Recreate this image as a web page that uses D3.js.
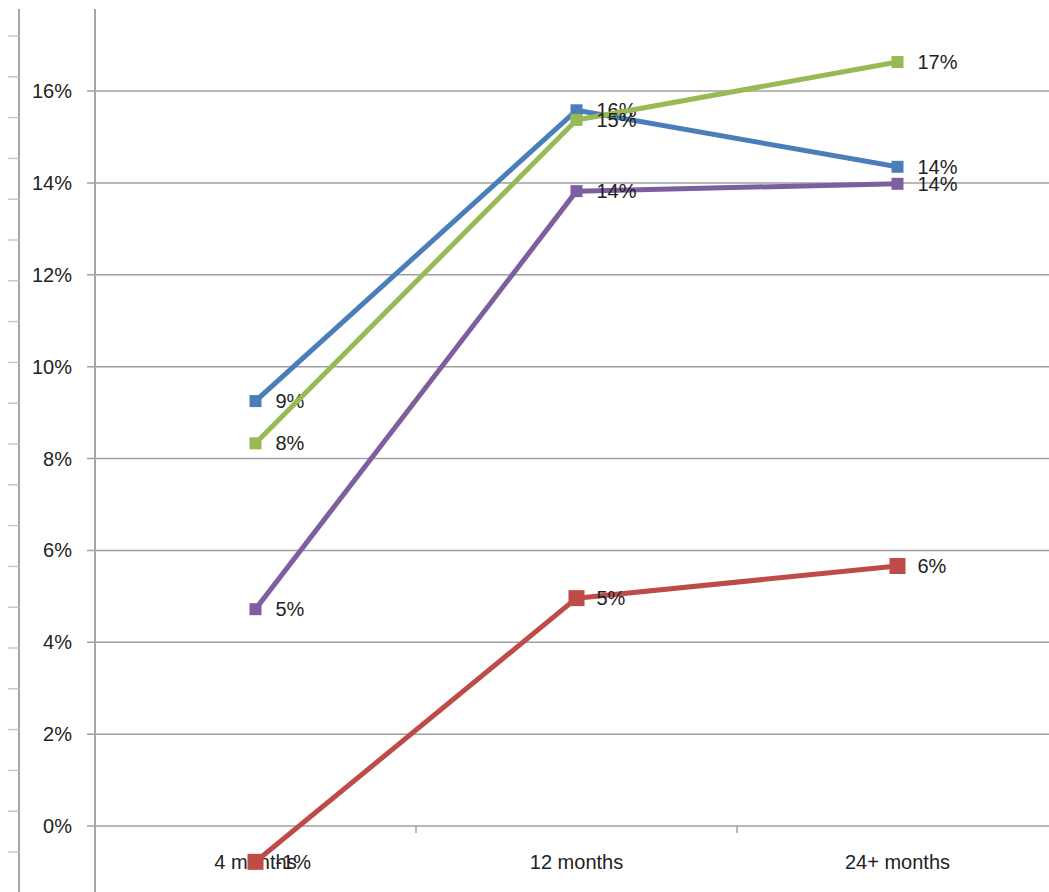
<!DOCTYPE html>
<html>
<head>
<meta charset="utf-8">
<script src="https://cdn.jsdelivr.net/npm/d3@7"></script>
<style>
  body { margin: 0; background: #fff; }
  text { font-family: "Liberation Sans", Arial, sans-serif; fill: #222; }
</style>
</head>
<body>
<div id="chart-area"></div>
<script>
// chart data
let categories = ["4 months", "12 months", "24+ months"];
let blueValues = [9.25, 15.58, 14.35];
let greenValues = [8.33, 15.37, 16.63];
let purpleValues = [4.72, 13.82, 13.98];
let redValues = [-0.78, 4.96, 5.66];
let yTicks = [0, 2, 4, 6, 8, 10, 12, 14, 16];

let series = [
    {name: "blue", color: "#4a7ebb", values: blueValues, marker: 12},
    {name: "green", color: "#98b954", values: greenValues, marker: 12},
    {name: "purple", color: "#7d5fa0", values: purpleValues, marker: 12},
    {name: "red", color: "#be4b48", values: redValues, marker: 16}
];

let width = 1049, height = 892;

let svg = d3.select("#chart-area")
    .append("svg")
        .attr("width", width)
        .attr("height", height);

// scales
let x = d3.scaleBand()
    .domain(categories)
    .range([95, 1058])
    .padding(0);

let y = d3.scaleLinear()
    .domain([0, 16])
    .range([826, 91]);

let cx = d => x(d) + x.bandwidth() / 2;

// leftover axis strip at the far left
let stripY = d3.scaleLinear().domain([0, 1]).range([36, 76.8]);
svg.append("line")
    .attr("x1", 19).attr("x2", 19)
    .attr("y1", 9).attr("y2", height)
    .attr("stroke", "#a6a6a6").attr("stroke-width", 2);
svg.selectAll(".strip-tick")
    .data(d3.range(0, 22))
    .enter().append("line")
        .attr("class", "strip-tick")
        .attr("x1", 8).attr("x2", 19)
        .attr("y1", d => stripY(d)).attr("y2", d => stripY(d))
        .attr("stroke", "#c8c8c8").attr("stroke-width", 1.5);

// gridlines + y labels
let yAxisGroup = svg.append("g").attr("class", "y-axis");
yAxisGroup.selectAll("line")
    .data(yTicks)
    .enter().append("line")
        .attr("x1", 87).attr("x2", width)
        .attr("y1", d => y(d)).attr("y2", d => y(d))
        .attr("stroke", "#a0a0a0").attr("stroke-width", 1.5);
yAxisGroup.selectAll("text")
    .data(yTicks)
    .enter().append("text")
        .attr("x", 72)
        .attr("y", d => y(d))
        .attr("dy", "0.35em")
        .attr("text-anchor", "end")
        .attr("font-size", "20px")
        .text(d => d + "%");

// y axis line
svg.append("line")
    .attr("x1", 95).attr("x2", 95)
    .attr("y1", 9).attr("y2", height)
    .attr("stroke", "#a6a6a6").attr("stroke-width", 2);

// x axis category ticks
svg.selectAll(".x-tick")
    .data(categories.slice(1))
    .enter().append("line")
        .attr("class", "x-tick")
        .attr("x1", d => x(d)).attr("x2", d => x(d))
        .attr("y1", y(0)).attr("y2", y(0) + 7)
        .attr("stroke", "#a0a0a0").attr("stroke-width", 1.5);

svg.selectAll(".x-label")
    .data(categories)
    .enter().append("text")
        .attr("class", "x-label")
        .attr("x", d => cx(d))
        .attr("y", 862)
        .attr("dy", "0.35em")
        .attr("text-anchor", "middle")
        .attr("font-size", "20px")
        .text(d => d);

// lines
let line = d3.line()
    .x((d, i) => cx(categories[i]))
    .y(d => y(d));

let groups = svg.selectAll(".series")
    .data(series)
    .enter().append("g")
        .attr("class", "series");

groups.append("path")
    .attr("d", d => line(d.values))
    .attr("fill", "none")
    .attr("stroke", d => d.color)
    .attr("stroke-width", 5)
    .attr("stroke-linejoin", "round");

groups.each(function(s) {
    let g = d3.select(this);
    g.selectAll("rect")
        .data(s.values)
        .enter().append("rect")
            .attr("x", (d, i) => cx(categories[i]) - s.marker / 2)
            .attr("y", d => y(d) - s.marker / 2)
            .attr("width", s.marker)
            .attr("height", s.marker)
            .attr("fill", s.color);
});

// value labels
groups.each(function(s) {
    let g = d3.select(this);
    g.selectAll("text")
        .data(s.values)
        .enter().append("text")
            .attr("x", (d, i) => cx(categories[i]) + 20)
            .attr("y", d => y(d))
            .attr("dy", "0.35em")
            .attr("font-size", "20px")
            .text(d => Math.round(d) + "%");
});
</script>
</body>
</html>
